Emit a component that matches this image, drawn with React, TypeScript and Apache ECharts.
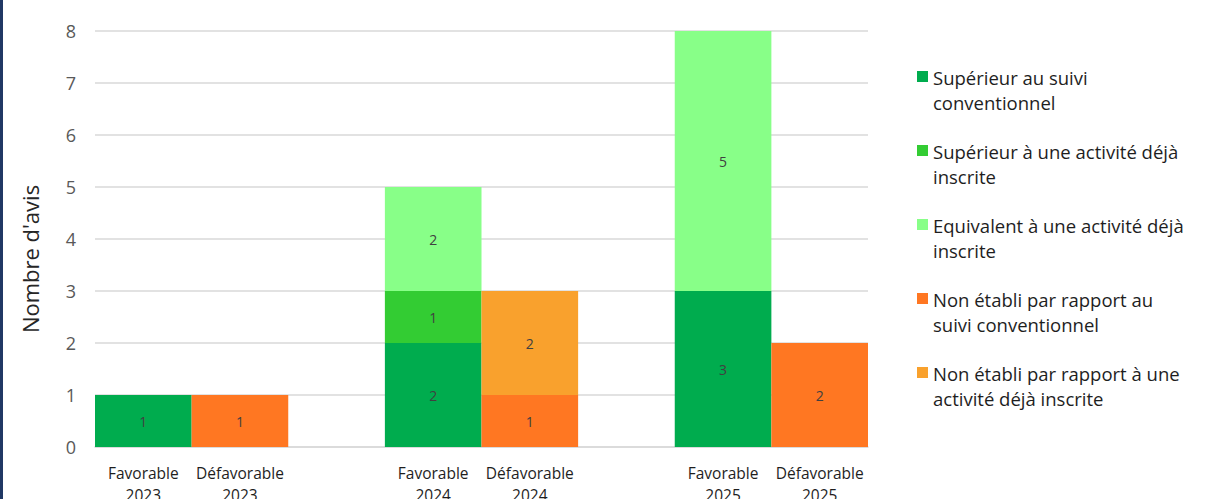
import React, { useEffect, useRef } from "react";
import * as echarts from "echarts";

const categories = [
  "Favorable\n2023",
  "Défavorable\n2023",
  "",
  "Favorable\n2024",
  "Défavorable\n2024",
  "",
  "Favorable\n2025",
  "Défavorable\n2025",
];

const seriesNames = [
  "Supérieur au suivi conventionnel",
  "Supérieur à une activité déjà inscrite",
  "Equivalent à une activité déjà inscrite",
  "Non établi par rapport au suivi conventionnel",
  "Non établi par rapport à une activité déjà inscrite",
];

const legendLines = [
  ["Supérieur au suivi", "conventionnel"],
  ["Supérieur à une activité déjà", "inscrite"],
  ["Equivalent à une activité déjà", "inscrite"],
  ["Non établi par rapport au", "suivi conventionnel"],
  ["Non établi par rapport à une", "activité déjà inscrite"],
];

const seriesColors = ["#00AC4E", "#33CC33", "#88FF88", "#FF7722", "#F9A12D"];

const superieurSuivi = [1, null, null, 2, null, null, 3, null];
const superieurActivite = [null, null, null, 1, null, null, null, null];
const equivalentActivite = [null, null, null, 2, null, null, 5, null];
const nonEtabliSuivi = [null, 1, null, null, 1, null, null, 2];
const nonEtabliActivite = [null, null, null, null, 2, null, null, null];

const seriesValues = [
  superieurSuivi,
  superieurActivite,
  equivalentActivite,
  nonEtabliSuivi,
  nonEtabliActivite,
];

const yAxisTitle = "Nombre d'avis";

export default function App() {
  const ref = useRef<HTMLDivElement>(null);

  useEffect(() => {
    if (!ref.current) return;
    const chart = echarts.init(ref.current, null, { renderer: "svg" });
    const font = "'Open Sans', 'Noto Sans', sans-serif";

    const legendGraphics: any[] = [];
    legendLines.forEach((lines, i) => {
      const cy = 77 + i * 74;
      legendGraphics.push({
        type: "rect",
        shape: { x: 917, y: cy - 6, width: 11, height: 11 },
        style: { fill: seriesColors[i] },
      });
      lines.forEach((line, j) => {
        legendGraphics.push({
          type: "text",
          x: 933,
          y: cy + j * 25,
          style: {
            text: line,
            fill: "#1e1e1e",
            font: `18.5px ${font}`,
            textVerticalAlign: "middle",
            textAlign: "left",
          },
        });
      });
    });

    chart.setOption({
      animation: false,
      backgroundColor: "#ffffff",
      grid: {
        left: 95,
        right: 338,
        top: 31,
        bottom: 52,
        containLabel: false,
        outerBoundsMode: "none",
      },
      xAxis: {
        type: "category",
        data: categories,
        axisLine: { show: true, lineStyle: { color: "#d9d9d9", width: 1.5 } },
        axisTick: { show: false },
        axisLabel: {
          interval: 0,
          color: "#1e1e1e",
          fontSize: 15.5,
          lineHeight: 22,
          margin: 15,
          fontFamily: font,
        },
      },
      yAxis: {
        type: "value",
        min: 0,
        max: 8,
        interval: 1,
        axisLine: { show: false },
        axisTick: { show: false },
        axisLabel: {
          color: "#595959",
          fontSize: 18,
          margin: 19,
          fontFamily: font,
        },
        splitLine: { show: true, lineStyle: { color: "#d9d9d9", width: 1.5 } },
      },
      series: seriesNames.map((name, i) => ({
        name,
        type: "bar",
        stack: "total",
        barCategoryGap: "0%",
        data: seriesValues[i],
        itemStyle: { color: seriesColors[i] },
        label: {
          show: true,
          position: "inside",
          color: "#404040",
          fontSize: 14,
          fontFamily: font,
        },
      })),
      graphic: [
        {
          type: "rect",
          shape: { x: 0, y: 0, width: 3, height: 499 },
          style: { fill: "#203864" },
        },
        {
          type: "text",
          x: 30,
          y: 259,
          rotation: Math.PI / 2,
          style: {
            text: yAxisTitle,
            fill: "#262626",
            font: `22px ${font}`,
            textAlign: "center",
            textVerticalAlign: "middle",
          },
        },
        ...legendGraphics,
      ],
    });

    return () => chart.dispose();
  }, []);

  return (
    <div
      ref={ref}
      style={{ position: "fixed", left: 0, top: 0, width: 1206, height: 499 }}
    />
  );
}
